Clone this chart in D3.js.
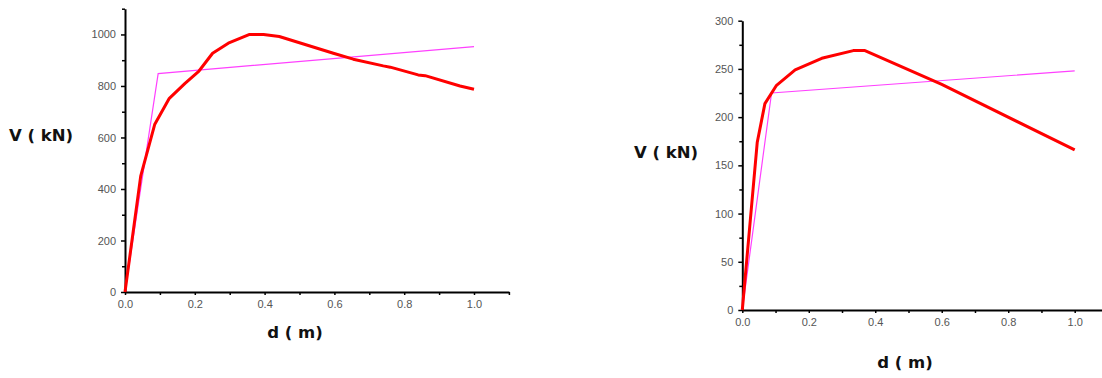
<!DOCTYPE html>
<html>
<head>
<meta charset="utf-8">
<script src="https://cdn.jsdelivr.net/npm/d3@7"></script>
<style>
  html, body { margin: 0; padding: 0; background: #fff; }
  svg { display: block; }
  .tick text { font-family: "Liberation Sans", Arial, sans-serif; font-size: 11px; fill: #555; }
  .axis-title { font-family: "DejaVu Sans", sans-serif; font-weight: bold; font-size: 16.5px; fill: #111; }
</style>
</head>
<body>
<svg id="chart" width="1102" height="378"></svg>
<script>
// Left panel: capacity curve (d in m, V in kN) and its bilinear idealisation
const leftCurveD = [0, 0.045, 0.085, 0.127, 0.172, 0.212, 0.251, 0.296, 0.357, 0.397, 0.442, 0.597, 0.654, 0.740, 0.760, 0.840, 0.860, 0.960, 1.0];
const leftCurveV = [0, 450, 650, 752, 810, 858, 927, 966, 1000, 1000, 992, 927, 904, 878, 873, 843, 840, 800, 787];
const leftBilinD = [0, 0.095, 1.0];
const leftBilinV = [0, 848, 953];
const leftYTicks = [0, 200, 400, 600, 800, 1000];
const leftYMinor = [100, 300, 500, 700, 900, 1100];

// Right panel: capacity curve and its bilinear idealisation
const rightCurveD = [0, 0.045, 0.068, 0.103, 0.159, 0.239, 0.334, 0.369, 0.600, 1.0];
const rightCurveV = [0, 174, 214, 233, 249, 261, 269, 269, 234, 166];
const rightBilinD = [0, 0.088, 1.0];
const rightBilinV = [0, 225, 248];
const rightYTicks = [0, 50, 100, 150, 200, 250, 300];
const rightYMinor = [25, 75, 125, 175, 225, 275];

const xTicks = [0, 0.2, 0.4, 0.6, 0.8, 1.0];
const xMinor = [0.1, 0.3, 0.5, 0.7, 0.9, 1.1];

const xTitle = "d ( m)";
const yTitle = "V ( kN)";

const svg = d3.select("#chart");

function panel(cfg) {
  const g = svg.append("g");
  const x = d3.scaleLinear().domain([0, 1.1]).range([cfg.x0, cfg.x0 + cfg.xw * 1.1]);
  const y = d3.scaleLinear().domain([0, cfg.yMax]).range([cfg.y0, cfg.yTop]);

  // minor ticks (unlabelled)
  g.append("g")
    .attr("transform", `translate(0,${cfg.y0})`)
    .call(d3.axisBottom(x).tickValues(xMinor).tickSize(3).tickFormat(""))
    .call(a => a.select(".domain").remove())
    .selectAll("line").attr("stroke", "#000").attr("stroke-width", 1.5);
  g.append("g")
    .attr("transform", `translate(${cfg.x0},0)`)
    .call(d3.axisLeft(y).tickValues(cfg.yMinor).tickSize(3).tickFormat(""))
    .call(a => a.select(".domain").remove())
    .selectAll("line").attr("stroke", "#000").attr("stroke-width", 1.5);

  // major axes
  const xa = g.append("g")
    .attr("transform", `translate(0,${cfg.y0})`)
    .call(d3.axisBottom(x).tickValues(xTicks).tickSize(3).tickSizeOuter(0).tickPadding(5).tickFormat(d3.format(".1f")));
  xa.select(".domain").attr("stroke", "#000").attr("stroke-width", 2);
  xa.selectAll(".tick line").attr("stroke", "#000").attr("stroke-width", 1.5);

  const ya = g.append("g")
    .attr("transform", `translate(${cfg.x0},0)`)
    .call(d3.axisLeft(y).tickValues(cfg.yTicks).tickSize(4).tickSizeOuter(0).tickPadding(5).tickFormat(d3.format("d")));
  ya.select(".domain").attr("stroke", "#000").attr("stroke-width", 2);
  ya.selectAll(".tick line").attr("stroke", "#000").attr("stroke-width", 1.5);

  const line = d3.line().x(d => x(d[0])).y(d => y(d[1]));

  // bilinear idealisation
  g.append("path")
    .datum(d3.zip(cfg.bilinD, cfg.bilinV))
    .attr("d", line)
    .attr("fill", "none")
    .attr("stroke", "#ff40ff")
    .attr("stroke-width", 1.2);

  // capacity curve
  g.append("path")
    .datum(d3.zip(cfg.curveD, cfg.curveV))
    .attr("d", line)
    .attr("fill", "none")
    .attr("stroke", "#ff0000")
    .attr("stroke-width", 3)
    .attr("stroke-linejoin", "round");

  g.append("text").attr("class", "axis-title")
    .attr("x", cfg.xTitleX).attr("y", cfg.xTitleY)
    .attr("text-anchor", "middle").attr("dominant-baseline", "middle")
    .text(xTitle);
  g.append("text").attr("class", "axis-title")
    .attr("x", cfg.yTitleX).attr("y", cfg.yTitleY)
    .attr("dominant-baseline", "middle")
    .text(yTitle);
}

panel({
  x0: 125, xw: 349, y0: 292, yTop: 8.7, yMax: 1100,
  yTicks: leftYTicks, yMinor: leftYMinor,
  curveD: leftCurveD, curveV: leftCurveV,
  bilinD: leftBilinD, bilinV: leftBilinV,
  xTitleX: 295, xTitleY: 333, yTitleX: 9, yTitleY: 136
});

panel({
  x0: 742.3, xw: 332.4, y0: 310, yTop: 20.7, yMax: 300,
  yTicks: rightYTicks, yMinor: rightYMinor,
  curveD: rightCurveD, curveV: rightCurveV,
  bilinD: rightBilinD, bilinV: rightBilinV,
  xTitleX: 905, xTitleY: 363, yTitleX: 634, yTitleY: 153
});
</script>
</body>
</html>
